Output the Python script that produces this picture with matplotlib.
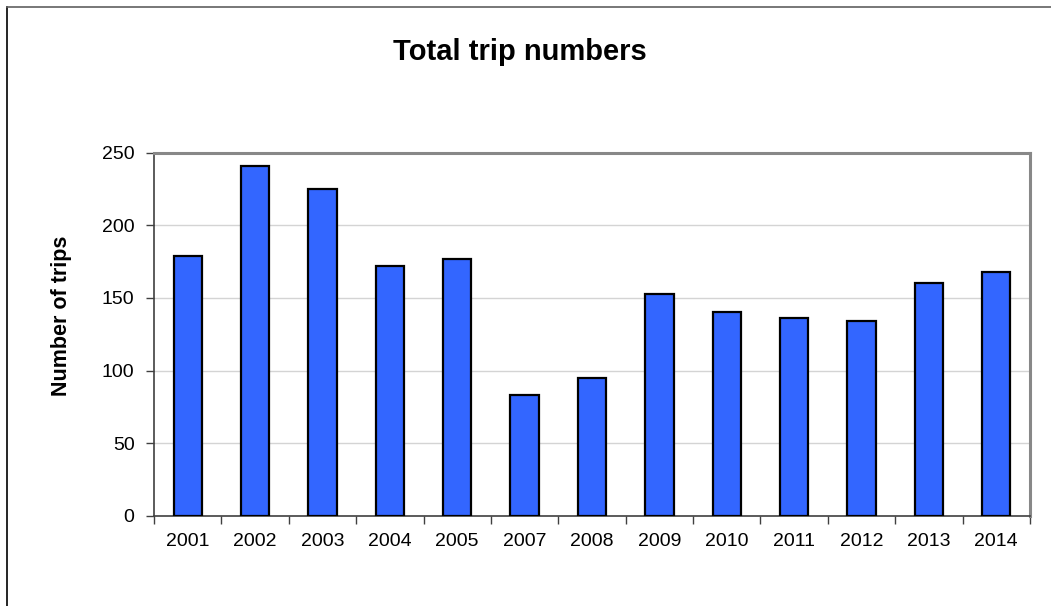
import numpy as np
import matplotlib
matplotlib.use("Agg")
import matplotlib.pyplot as plt
from matplotlib.lines import Line2D

# --- DATA ---
years = ["2001", "2002", "2003", "2004", "2005", "2007", "2008",
         "2009", "2010", "2011", "2012", "2013", "2014"]
trips = [179, 241, 225, 172, 177, 83, 95, 153, 140, 136, 134, 160, 168]
y_ticks = [0, 50, 100, 150, 200, 250]

plt.rcParams['font.family'] = ['Liberation Sans', 'DejaVu Sans']

W, H = 1051, 606
fig = plt.figure(figsize=(W / 100, H / 100), dpi=100)
fig.patch.set_facecolor('white')

# outer chart frame (only left and top edges fall inside the picture)
fig.add_artist(Line2D([7 / W, 7 / W], [0, 1 - 7 / H], color='#000000', lw=1.2,
                      transform=fig.transFigure))
fig.add_artist(Line2D([7 / W, 1], [1 - 7 / H, 1 - 7 / H], color='#606060', lw=1.2,
                      transform=fig.transFigure))

ax = fig.add_axes([154 / W, 1 - 516 / H, (1030 - 154) / W, (516 - 152.5) / H])

x = np.arange(len(years))
ax.bar(x, trips, width=0.42, color='#3366FF', edgecolor='black', linewidth=1.6, zorder=3)

ax.set_xlim(-0.5, len(years) - 0.5)
ax.set_ylim(0, 250)
ax.set_yticks(y_ticks)
ax.yaxis.grid(True, color='#D4D4D4', linewidth=1.0, zorder=0)

ax.set_xticks(x)
ax.set_xticklabels(years)
ax.set_xticks(np.arange(-0.5, len(years)), minor=True)
ax.tick_params(axis='x', which='major', length=0, pad=12, labelsize=14)
ax.tick_params(axis='x', which='minor', length=6, direction='out', color='#404040', width=1)
ax.tick_params(axis='y', length=6, direction='out', color='#404040', width=1, pad=8, labelsize=14)

for side in ['left', 'bottom']:
    ax.spines[side].set_color('#404040')
    ax.spines[side].set_linewidth(1.2)
for side in ['top', 'right']:
    ax.spines[side].set_color('#888888')
    ax.spines[side].set_linewidth(2.2)

fig.text(520 / W, 1 - 52 / H, "Total trip numbers", ha='center', va='center',
         fontsize=21, fontweight='bold')
fig.text(61 / W, 1 - 316 / H, "Number of trips", ha='center', va='center',
         rotation=90, fontsize=15.5, fontweight='bold')

fig.savefig("out.png", dpi=100)
